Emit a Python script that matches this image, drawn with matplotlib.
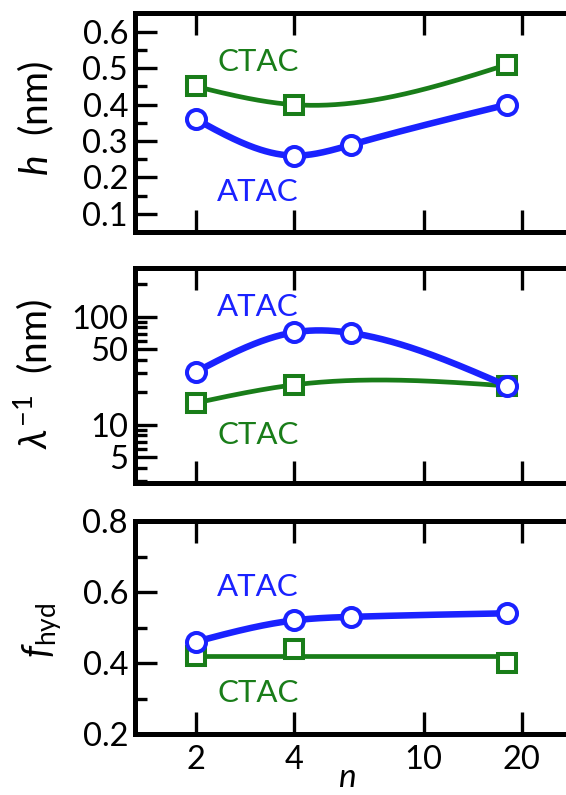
import numpy as np
import matplotlib
matplotlib.use("Agg")
import matplotlib.pyplot as plt
from matplotlib.ticker import FixedLocator, NullFormatter, FuncFormatter

plt.rcParams['font.family'] = ['Lato', 'DejaVu Sans']
plt.rcParams['mathtext.fontset'] = 'custom'
plt.rcParams['mathtext.rm'] = 'Lato'
plt.rcParams['mathtext.it'] = 'Lato:italic'
plt.rcParams['mathtext.fallback'] = 'stixsans'

BLUE = '#1a22ff'
GREEN = '#197d19'

# chain length n
n_atac = [2, 4, 6, 18]
n_ctac = [2, 4, 18]

# head/layer thickness h (nm)
h_atac = [0.36, 0.26, 0.29, 0.40]
h_ctac = [0.45, 0.40, 0.51]

# decay length 1/lambda (nm)
lam_atac = [31, 72, 71, 23]
lam_ctac = [16, 23.5, 23]

# hydrated fraction
f_atac = [0.46, 0.52, 0.53, 0.54]
f_ctac = [0.42, 0.44, 0.40]


def natural_spline(x, y, num=300):
    x = np.asarray(x, float)
    y = np.asarray(y, float)
    k = len(x)
    h = np.diff(x)
    A = np.zeros((k, k))
    b = np.zeros(k)
    A[0, 0] = A[-1, -1] = 1.0
    for i in range(1, k - 1):
        A[i, i - 1] = h[i - 1]
        A[i, i] = 2 * (h[i - 1] + h[i])
        A[i, i + 1] = h[i]
        b[i] = 3 * ((y[i + 1] - y[i]) / h[i] - (y[i] - y[i - 1]) / h[i - 1])
    c = np.linalg.solve(A, b)
    xs = np.linspace(x[0], x[-1], num)
    idx = np.clip(np.searchsorted(x, xs) - 1, 0, k - 2)
    dx = xs - x[idx]
    bb = (y[idx + 1] - y[idx]) / h[idx] - h[idx] * (2 * c[idx] + c[idx + 1]) / 3
    dd = (c[idx + 1] - c[idx]) / (3 * h[idx])
    ys = y[idx] + bb * dx + c[idx] * dx ** 2 + dd * dx ** 3
    return xs, ys


def smooth(x, y, logy=False):
    lx = np.log10(x)
    ly = np.log10(y) if logy else np.asarray(y, float)
    xs, ys = natural_spline(lx, ly)
    return 10 ** xs, (10 ** ys if logy else ys)


W, H = 566, 795
fig = plt.figure(figsize=(W / 100, H / 100), dpi=100)

left = 135 / W
width = (572 - 135) / W
panels = [(13, 232), (268, 483), (521, 734)]
axes = []
for top, bot in panels:
    axes.append(fig.add_axes([left, 1 - bot / H, width, (bot - top) / H]))

line_kw = dict(markerfacecolor='white', markeredgewidth=2.9)


def style(ax):
    ax.set_xscale('log')
    ax.set_xlim(1.30, 28.5)
    for s in ax.spines.values():
        s.set_linewidth(3.6)
    ax.xaxis.set_major_locator(FixedLocator([2, 4, 10, 20]))
    ax.xaxis.set_minor_locator(FixedLocator([]))
    ax.xaxis.set_major_formatter(FuncFormatter(lambda v, p: '%g' % v))
    ax.tick_params(axis='both', which='major', direction='in', length=16,
                   width=2.4, labelsize=23.5, top=True, right=False)
    ax.tick_params(axis='both', which='minor', direction='in', length=8.5,
                   width=2.4, labelsize=23.5, right=False)
    ax.tick_params(axis='y', which='both', pad=5)
    ax.tick_params(axis='x', which='both', pad=8)


# --- h panel ---
ax = axes[0]
style(ax)
xs, ys = smooth(n_ctac, h_ctac)
ax.plot(xs, ys, color=GREEN, lw=3.4, zorder=2)
ax.plot(n_ctac, h_ctac, 's', color=GREEN, ms=13, zorder=3, **line_kw)
xs, ys = smooth(n_atac, h_atac)
ax.plot(xs, ys, color=BLUE, lw=4.7, zorder=4)
ax.plot(n_atac, h_atac, 'o', color=BLUE, ms=13.7, zorder=5, **line_kw)
ax.set_ylim(0.05, 0.652)
ax.yaxis.set_major_locator(FixedLocator([0.1, 0.2, 0.3, 0.4, 0.5, 0.6]))
ax.yaxis.set_minor_locator(FixedLocator([0.15, 0.25, 0.35, 0.45, 0.55]))
ax.yaxis.set_major_formatter(FuncFormatter(lambda v, p: '%.1f' % v))
ax.tick_params(axis='x', labelbottom=False)
ax.text(3.1, 0.517, 'CTAC', color=GREEN, fontsize=22.5, ha='center', va='center')
ax.text(3.1, 0.161, 'ATAC', color=BLUE, fontsize=22.5, ha='center', va='center')

# --- lambda panel ---
ax = axes[1]
style(ax)
ax.set_yscale('log')
xs, ys = smooth(n_ctac, lam_ctac, logy=True)
ax.plot(xs, ys, color=GREEN, lw=3.4, zorder=2)
ax.plot(n_ctac, lam_ctac, 's', color=GREEN, ms=13, zorder=3, **line_kw)
xs, ys = smooth(n_atac, lam_atac, logy=True)
ax.plot(xs, ys, color=BLUE, lw=4.7, zorder=4)
ax.plot(n_atac, lam_atac, 'o', color=BLUE, ms=13.7, zorder=5, **line_kw)
ax.set_ylim(2.9, 284)
ax.yaxis.set_major_locator(FixedLocator([5, 10, 50, 100]))
ax.yaxis.set_minor_locator(FixedLocator([3, 4, 6, 7, 8, 9, 20, 30, 40,
                                         60, 70, 80, 90, 200]))
ax.yaxis.set_major_formatter(FuncFormatter(lambda v, p: '%g' % v))
ax.yaxis.set_minor_formatter(NullFormatter())
ax.tick_params(axis='x', labelbottom=False)
ax.text(3.1, 124, 'ATAC', color=BLUE, fontsize=22.5, ha='center', va='center')
ax.text(3.1, 8.1, 'CTAC', color=GREEN, fontsize=22.5, ha='center', va='center')

# --- hydration panel ---
ax = axes[2]
style(ax)
ax.plot([n_ctac[0], n_ctac[-1]], [np.mean(f_ctac)] * 2, color=GREEN, lw=3.4, zorder=2)
ax.plot(n_ctac, f_ctac, 's', color=GREEN, ms=13, zorder=3, **line_kw)
xs, ys = smooth(n_atac, f_atac)
ax.plot(xs, ys, color=BLUE, lw=4.7, zorder=4)
ax.plot(n_atac, f_atac, 'o', color=BLUE, ms=13.7, zorder=5, **line_kw)
ax.set_ylim(0.2, 0.8)
ax.yaxis.set_major_locator(FixedLocator([0.2, 0.4, 0.6, 0.8]))
ax.yaxis.set_minor_locator(FixedLocator([0.3, 0.5, 0.7]))
ax.yaxis.set_major_formatter(FuncFormatter(lambda v, p: '%.1f' % v))
ax.text(3.1, 0.614, 'ATAC', color=BLUE, fontsize=22.5, ha='center', va='center')
ax.text(3.1, 0.315, 'CTAC', color=GREEN, fontsize=22.5, ha='center', va='center')

for a in axes:
    for lab in a.get_xticklabels() + a.get_yticklabels():
        lab.set_clip_on(False)

# axis titles
fig.text(36 / W, 1 - 118 / H, r'$h$  (nm)', rotation=90, ha='center', va='center', fontsize=28)
fig.text(33 / W, 1 - 374 / H, r'$\lambda^{-1}$  (nm)', rotation=90, ha='center', va='center', fontsize=28)
fig.text(42 / W, 1 - 630 / H, r'$f_{\rm hyd}$', rotation=90, ha='center', va='center', fontsize=27)
fig.text(347 / W, 1 - 787 / H, r'$n$', ha='center', va='baseline', fontsize=24)

fig.savefig('out.png', dpi=100)
